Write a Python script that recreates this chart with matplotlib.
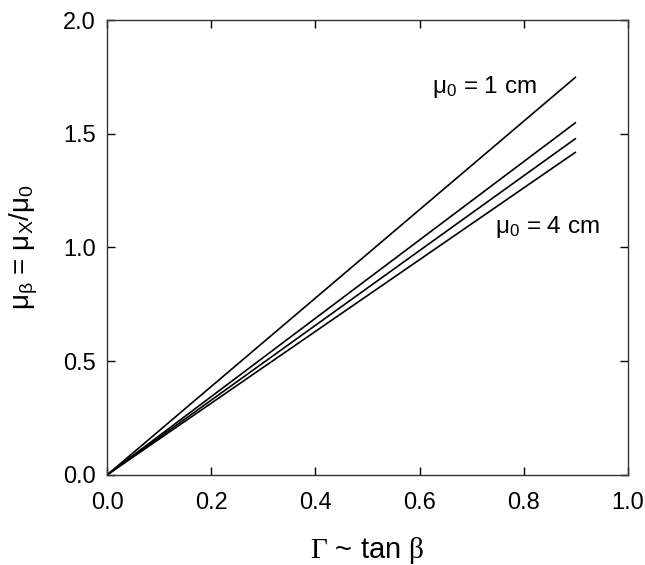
import matplotlib
matplotlib.use("Agg")
import matplotlib.pyplot as plt
import numpy as np

plt.rcParams['font.family'] = ['Liberation Sans', 'DejaVu Sans']
plt.rcParams['mathtext.fontset'] = 'custom'
plt.rcParams['mathtext.rm'] = 'Liberation Sans'
plt.rcParams['mathtext.it'] = 'Liberation Sans'
plt.rcParams['mathtext.sf'] = 'Liberation Serif'
plt.rcParams['mathtext.default'] = 'regular'

# Data
x_end = 0.9
x_values = [0.0, x_end]
end_values = [1.75, 1.55, 1.48, 1.42]   # mu0 = 1, 2, 3, 4 cm
labels_text = [r'$\mu_0$ = 1 cm', r'$\mu_0$ = 4 cm']
xticks = [0.0, 0.2, 0.4, 0.6, 0.8, 1.0]
yticks = [0.0, 0.5, 1.0, 1.5, 2.0]

fig = plt.figure(figsize=(6.45, 5.65), dpi=100)
ax = fig.add_axes([0.1659, 0.1593, 0.8078, 0.8053])

for v in end_values:
    ax.plot(x_values, [0.0, v], color='black', lw=1.2, solid_capstyle='butt')

ax.text(0.623, 1.707, labels_text[0], fontsize=17.5, va='center', ha='left')
ax.text(0.745, 1.091, labels_text[1], fontsize=17.5, va='center', ha='left')

ax.set_xlim(0, 1.0)
ax.set_ylim(0, 2.0)
ax.set_xticks(xticks)
ax.set_yticks(yticks)
ax.set_xticklabels([f'{t:.1f}' for t in xticks])
ax.set_yticklabels([f'{t:.1f}' for t in yticks])
ax.tick_params(direction='in', length=6, width=1, labelsize=17, top=True, right=True)
ax.tick_params(axis='x', pad=12.5)
ax.tick_params(axis='y', pad=8)
for s in ax.spines.values():
    s.set_linewidth(1)
    s.set_color('#333333')

ax.set_xlabel(r'$\mathsf{\Gamma}$ ~ tan $\mathsf{\beta}$', fontsize=21, labelpad=15)
ax.set_ylabel(r'$\mu_{\beta}$ = $\mu_X/\mu_0$', fontsize=20, labelpad=17)

fig.savefig('out.png', dpi=100)
